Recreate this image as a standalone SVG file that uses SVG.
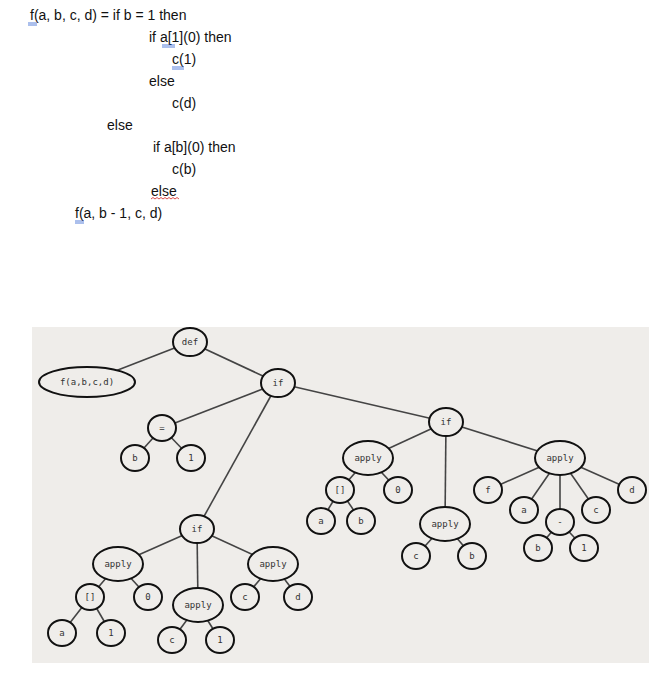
<svg xmlns="http://www.w3.org/2000/svg" width="670" height="679" viewBox="0 0 670 679">
<style>
.t{font-family:"Liberation Sans",Arial,sans-serif;font-size:14px;fill:#111}
.n ellipse{fill:#efedea;stroke:#111;stroke-width:2}
.n text{font-family:"DejaVu Sans Mono",monospace;font-size:9px;fill:#333;text-anchor:middle;dominant-baseline:central}
#edges line{stroke:#444;stroke-width:1.6}
.u{stroke:#2f5fd0;stroke-width:0.8}
</style>
<rect width="670" height="679" fill="#fff"/>
<g id="code">
<text class="t" x="30" y="20">f(a, b, c, d) = if b = 1 then</text>
<text class="t" x="149" y="42">if a[1](0) then</text>
<text class="t" x="172" y="64">c(1)</text>
<text class="t" x="149" y="86">else</text>
<text class="t" x="172" y="108">c(d)</text>
<text class="t" x="107" y="130">else</text>
<text class="t" x="153" y="152">if a[b](0) then</text>
<text class="t" x="172" y="174">c(b)</text>
<text class="t" x="151" y="196">else</text>
<text class="t" x="75" y="218">f(a, b - 1, c, d)</text>
<g class="u">
<line x1="28" y1="23" x2="37" y2="23"/><line x1="28" y1="25" x2="37" y2="25"/>
<line x1="162" y1="45" x2="175" y2="45"/><line x1="162" y1="47" x2="175" y2="47"/>
<line x1="172" y1="67" x2="184" y2="67"/><line x1="172" y1="69" x2="184" y2="69"/>
<line x1="75" y1="221" x2="84" y2="221"/><line x1="75" y1="223" x2="84" y2="223"/>
</g>
<path d="M151 199 l2 -1.5 l2 1.5 l2 -1.5 l2 1.5 l2 -1.5 l2 1.5 l2 -1.5 l2 1.5 l2 -1.5 l2 1.5 l2 -1.5 l2 1.5 l2 -1.5 l2 1.5" fill="none" stroke="#d02020" stroke-width="0.8"/>
</g>
<rect x="32" y="327" width="617" height="336" fill="#efedea"/>
<g id="edges">
<line x1="190" y1="342" x2="87" y2="382"/><line x1="190" y1="342" x2="278" y2="383"/>
<line x1="278" y1="383" x2="162" y2="428"/><line x1="278" y1="383" x2="197" y2="529"/><line x1="278" y1="383" x2="446" y2="422"/>
<line x1="162" y1="428" x2="135" y2="458"/><line x1="162" y1="428" x2="191" y2="458"/>
<line x1="446" y1="422" x2="368" y2="458"/><line x1="446" y1="422" x2="445" y2="524"/><line x1="446" y1="422" x2="560" y2="458"/>
<line x1="368" y1="458" x2="340" y2="490"/><line x1="368" y1="458" x2="398" y2="490"/>
<line x1="340" y1="490" x2="321" y2="521"/><line x1="340" y1="490" x2="361" y2="521"/>
<line x1="445" y1="524" x2="416" y2="556"/><line x1="445" y1="524" x2="472" y2="556"/>
<line x1="560" y1="458" x2="488" y2="490"/><line x1="560" y1="458" x2="524" y2="510"/><line x1="560" y1="458" x2="560" y2="522"/><line x1="560" y1="458" x2="596" y2="510"/><line x1="560" y1="458" x2="632" y2="490"/>
<line x1="560" y1="522" x2="538" y2="548"/><line x1="560" y1="522" x2="584" y2="548"/>
<line x1="197" y1="529" x2="118" y2="564"/><line x1="197" y1="529" x2="198" y2="605"/><line x1="197" y1="529" x2="273" y2="564"/>
<line x1="118" y1="564" x2="90" y2="597"/><line x1="118" y1="564" x2="148" y2="597"/>
<line x1="90" y1="597" x2="62" y2="633"/><line x1="90" y1="597" x2="111" y2="633"/>
<line x1="198" y1="605" x2="172" y2="640"/><line x1="198" y1="605" x2="220" y2="640"/>
<line x1="273" y1="564" x2="245" y2="597"/><line x1="273" y1="564" x2="298" y2="597"/>
</g>
<g id="n-def" class="n"><ellipse cx="190" cy="342" rx="17" ry="14"/><text x="190" y="342">def</text></g>
<g id="n-f" class="n"><ellipse cx="87" cy="382" rx="48" ry="15"/><text x="87" y="382">f(a,b,c,d)</text></g>
<g id="n-if1" class="n"><ellipse cx="278" cy="383" rx="17" ry="14"/><text x="278" y="383">if</text></g>
<g id="n-eq" class="n"><ellipse cx="162" cy="428" rx="14" ry="13"/><text x="162" y="428">=</text></g>
<g id="n-eqb" class="n"><ellipse cx="135" cy="458" rx="14" ry="13"/><text x="135" y="458">b</text></g>
<g id="n-eq1" class="n"><ellipse cx="191" cy="458" rx="14" ry="13"/><text x="191" y="458">1</text></g>
<g id="n-if2" class="n"><ellipse cx="446" cy="422" rx="17" ry="14"/><text x="446" y="422">if</text></g>
<g id="n-apA" class="n"><ellipse cx="368" cy="458" rx="25" ry="17"/><text x="368" y="458">apply</text></g>
<g id="n-idxA" class="n"><ellipse cx="340" cy="490" rx="14" ry="13"/><text x="340" y="490">[]</text></g>
<g id="n-0A" class="n"><ellipse cx="398" cy="490" rx="14" ry="13"/><text x="398" y="490">0</text></g>
<g id="n-aA" class="n"><ellipse cx="321" cy="521" rx="14" ry="13"/><text x="321" y="521">a</text></g>
<g id="n-bA" class="n"><ellipse cx="361" cy="521" rx="14" ry="13"/><text x="361" y="521">b</text></g>
<g id="n-apB" class="n"><ellipse cx="445" cy="524" rx="25" ry="17"/><text x="445" y="524">apply</text></g>
<g id="n-cB" class="n"><ellipse cx="416" cy="556" rx="14" ry="13"/><text x="416" y="556">c</text></g>
<g id="n-bB" class="n"><ellipse cx="472" cy="556" rx="14" ry="13"/><text x="472" y="556">b</text></g>
<g id="n-apC" class="n"><ellipse cx="560" cy="458" rx="25" ry="17"/><text x="560" y="458">apply</text></g>
<g id="n-fC" class="n"><ellipse cx="488" cy="490" rx="14" ry="13"/><text x="488" y="490">f</text></g>
<g id="n-aC" class="n"><ellipse cx="524" cy="510" rx="14" ry="13"/><text x="524" y="510">a</text></g>
<g id="n-minus" class="n"><ellipse cx="560" cy="522" rx="14" ry="13"/><text x="560" y="522">-</text></g>
<g id="n-cC" class="n"><ellipse cx="596" cy="510" rx="14" ry="13"/><text x="596" y="510">c</text></g>
<g id="n-dC" class="n"><ellipse cx="632" cy="490" rx="14" ry="13"/><text x="632" y="490">d</text></g>
<g id="n-bM" class="n"><ellipse cx="538" cy="548" rx="14" ry="13"/><text x="538" y="548">b</text></g>
<g id="n-1M" class="n"><ellipse cx="584" cy="548" rx="14" ry="13"/><text x="584" y="548">1</text></g>
<g id="n-if3" class="n"><ellipse cx="197" cy="529" rx="17" ry="14"/><text x="197" y="529">if</text></g>
<g id="n-apD" class="n"><ellipse cx="118" cy="564" rx="25" ry="17"/><text x="118" y="564">apply</text></g>
<g id="n-idxD" class="n"><ellipse cx="90" cy="597" rx="14" ry="13"/><text x="90" y="597">[]</text></g>
<g id="n-0D" class="n"><ellipse cx="148" cy="597" rx="14" ry="13"/><text x="148" y="597">0</text></g>
<g id="n-aD" class="n"><ellipse cx="62" cy="633" rx="14" ry="13"/><text x="62" y="633">a</text></g>
<g id="n-1D" class="n"><ellipse cx="111" cy="633" rx="14" ry="13"/><text x="111" y="633">1</text></g>
<g id="n-apE" class="n"><ellipse cx="198" cy="605" rx="25" ry="17"/><text x="198" y="605">apply</text></g>
<g id="n-cE" class="n"><ellipse cx="172" cy="640" rx="14" ry="13"/><text x="172" y="640">c</text></g>
<g id="n-1E" class="n"><ellipse cx="220" cy="640" rx="14" ry="13"/><text x="220" y="640">1</text></g>
<g id="n-apF" class="n"><ellipse cx="273" cy="564" rx="25" ry="17"/><text x="273" y="564">apply</text></g>
<g id="n-cF" class="n"><ellipse cx="245" cy="597" rx="14" ry="13"/><text x="245" y="597">c</text></g>
<g id="n-dF" class="n"><ellipse cx="298" cy="597" rx="14" ry="13"/><text x="298" y="597">d</text></g>
</svg>
